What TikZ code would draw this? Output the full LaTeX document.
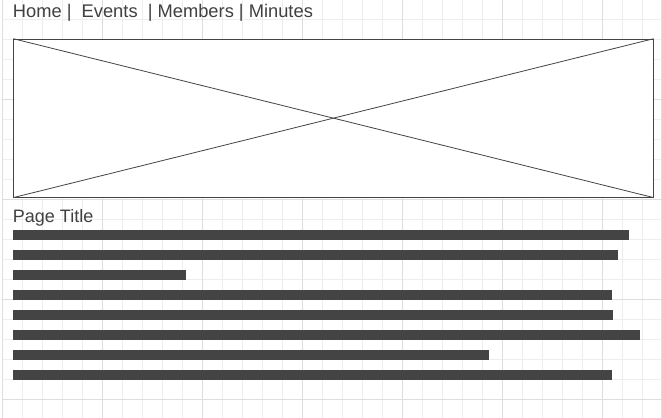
\documentclass[tikz,border=0pt]{standalone}
\usepackage{fontspec}
\setmainfont{Liberation Sans}
\definecolor{gridminor}{HTML}{EDEDED}
\definecolor{gridmajor}{HTML}{DEDEDE}
\definecolor{ink}{HTML}{444444}
\definecolor{txt}{HTML}{404040}
\tikzset{
  minorline/.style={draw=gridminor, line width=0.9pt},
  majorline/.style={draw=gridmajor, line width=1pt},
  textbar/.style={fill=ink, draw=none, inner sep=0pt, minimum height=10pt, anchor=north west},
  label/.style={inner sep=0pt, anchor=base west, text=txt, font=\fontsize{18}{20}\selectfont},
  imgbox/.style={draw=ink, line width=0.9pt, fill=white, inner sep=0pt, anchor=north west},
}
\begin{document}
\begin{tikzpicture}[x=1pt, y=-1pt]
\useasboundingbox (0,0) rectangle (662,418);
\fill[white] (0,0) rectangle (662,418);
% grid
\foreach \i in {0,...,33} {
  \pgfmathsetmacro{\xx}{2.7+20*\i}
  \draw[minorline] (\xx,0) -- (\xx,418);
}
\foreach \i in {1,...,20} {
  \pgfmathsetmacro{\yy}{-0.7+20*\i}
  \draw[minorline] (2.7,\yy) -- (662,\yy);
}
\foreach \i in {0,...,6} {
  \pgfmathsetmacro{\xx}{2.7+100*\i}
  \draw[majorline] (\xx,0) -- (\xx,418);
}
\foreach \i in {1,...,4} {
  \pgfmathsetmacro{\yy}{-0.7+100*\i}
  \draw[majorline] (2.7,\yy) -- (662,\yy);
}
\draw[majorline] (661.3,0) -- (661.3,418);
% navigation
\node[label, font=\fontsize{18.3}{20}\selectfont] (nav) at (12.7,17.6) {Home |\ \ Events\ \ | Members | Minutes};
% image placeholder
\node[imgbox, minimum width=639.4pt, minimum height=158pt] (img) at (13.3,38.7) {};
\draw[ink, line width=0.8pt] (img.north west) -- (img.south east);
\draw[ink, line width=0.8pt] (img.south west) -- (img.north east);
% title
\node[label] (title) at (12.7,222) {Page Title};
% text bars
\node[textbar, minimum width=616pt] (b1) at (13,229.5) {};
\node[textbar, minimum width=605pt] (b2) at (13,249.5) {};
\node[textbar, minimum width=173pt] (b3) at (13,269.5) {};
\node[textbar, minimum width=599pt] (b4) at (13,289.5) {};
\node[textbar, minimum width=600pt] (b5) at (13,309.5) {};
\node[textbar, minimum width=627pt] (b6) at (13,329.5) {};
\node[textbar, minimum width=476pt] (b7) at (13,349.5) {};
\node[textbar, minimum width=599pt] (b8) at (13,369.5) {};
\end{tikzpicture}
\end{document}
